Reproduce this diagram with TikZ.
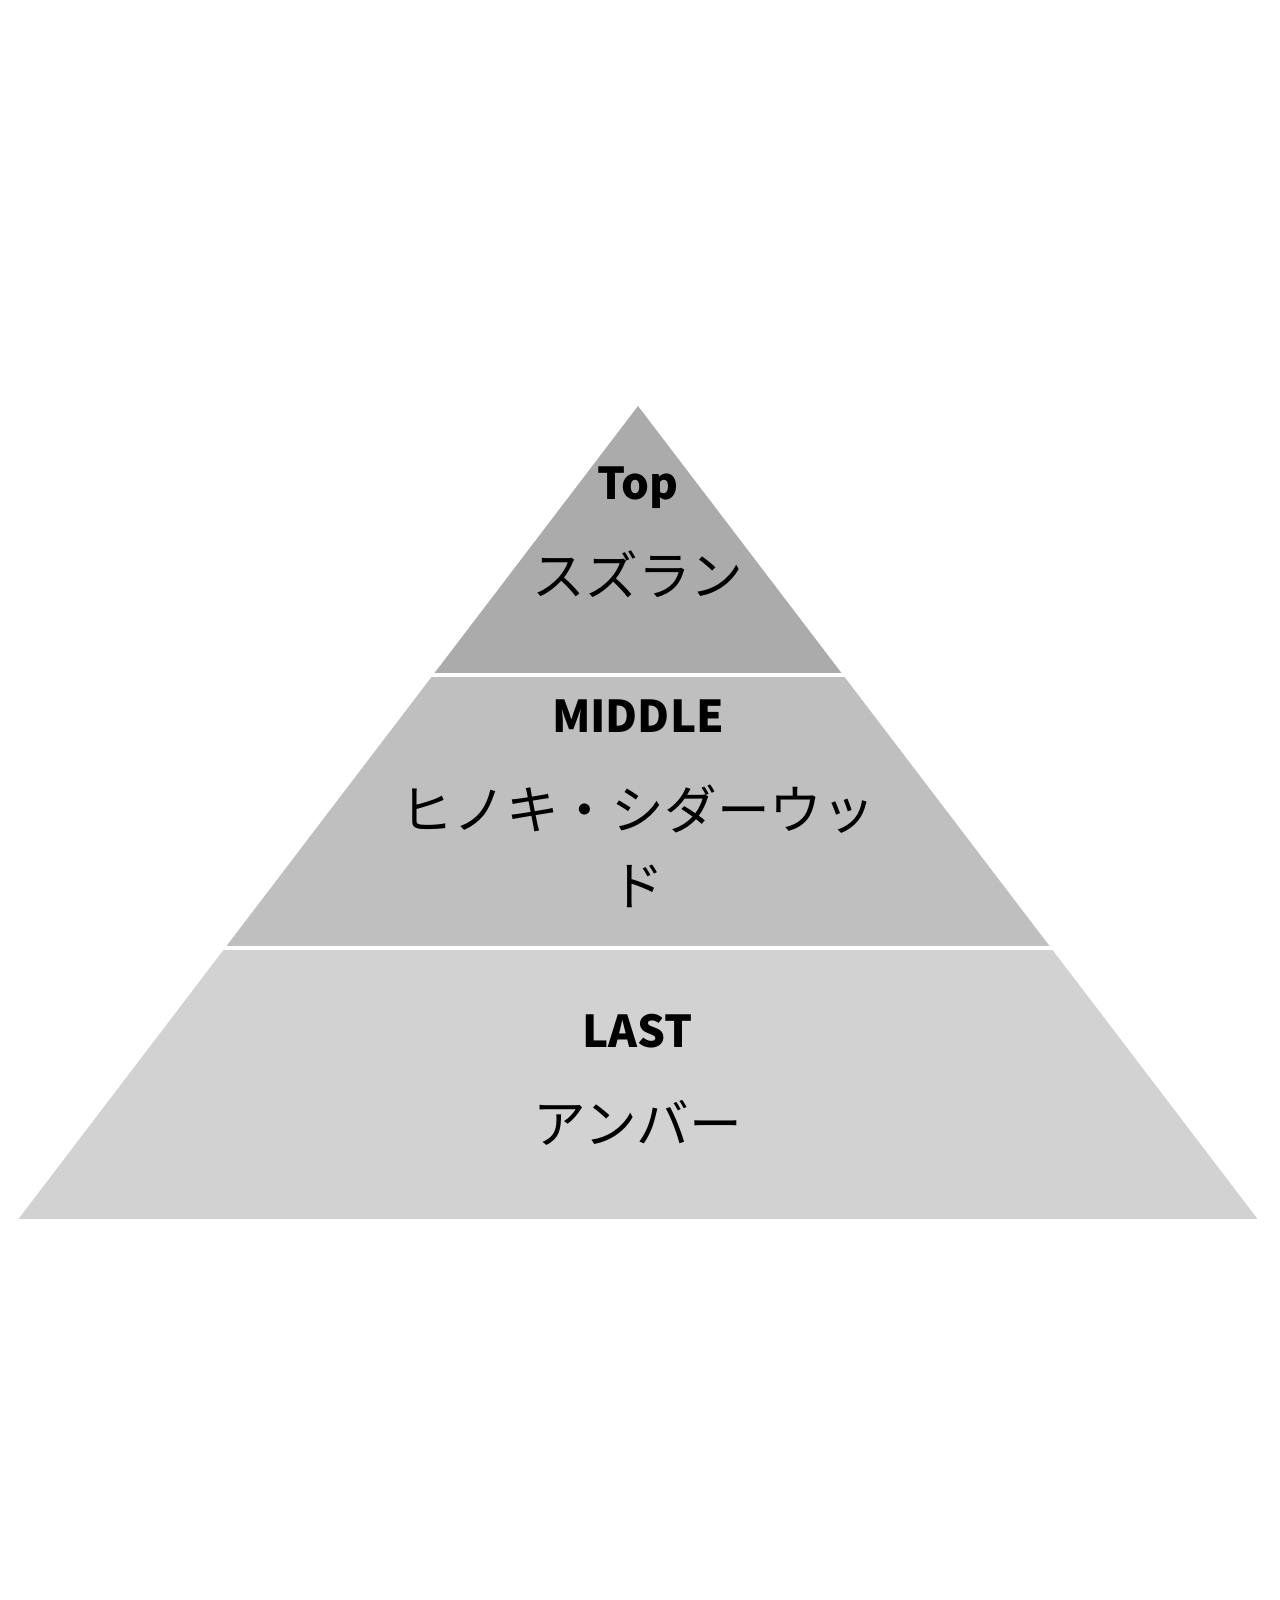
\documentclass[tikz,border=0pt]{standalone}
\usepackage{fontspec}
\setmainfont{Noto Sans CJK JP}
\usepackage{tikz}
\usetikzlibrary{calc}
\definecolor{topgray}{RGB}{171,171,171}
\definecolor{midgray}{RGB}{191,191,191}
\definecolor{lastgray}{RGB}{210,210,210}

\begin{document}
\begin{tikzpicture}[
  gap/.style={draw=white, line width=1.15pt},
  tiername/.style={font=\fontsize{12.5}{15}\selectfont\bfseries, anchor=base},
  scent/.style={font=\fontsize{15}{21.9}\selectfont, anchor=base, align=center}]
\useasboundingbox (0,0) rectangle (12.8,16);
% Pyramid corners
\coordinate (apex) at (6.38,11.94);
\coordinate (bl) at (0.185,3.81);
\coordinate (br) at (12.575,3.81);
% Cuts at one and two thirds of the height
\coordinate (l1) at ($(apex)!0.331!(bl)$);
\coordinate (r1) at ($(apex)!0.331!(br)$);
\coordinate (l2) at ($(apex)!0.6667!(bl)$);
\coordinate (r2) at ($(apex)!0.6667!(br)$);
% Tiers
\fill[topgray] (apex) -- (r1) -- (l1) -- cycle;
\fill[midgray] (l1) -- (r1) -- (r2) -- (l2) -- cycle;
\fill[lastgray] (l2) -- (r2) -- (br) -- (bl) -- cycle;
\draw[gap] ($(l1)+(-0.1,0)$) -- ($(r1)+(0.1,0)$);
\draw[gap] ($(l2)+(-0.1,0)$) -- ($(r2)+(0.1,0)$);
% Tier texts
\node[tiername] (top) at (6.38,11.00) {Top};
\node[scent] (topnote) at (6.38,10.04) {スズラン};
\node[tiername] (middle) at (6.38,8.67) {MIDDLE};
\node[scent] (middlenote) at (6.38,6.94) {ヒノキ・シダーウッ\\ド};
\node[tiername] (last) at (6.38,5.52) {LAST};
\node[scent] (lastnote) at (6.38,4.56) {アンバー};
\end{tikzpicture}
\end{document}
